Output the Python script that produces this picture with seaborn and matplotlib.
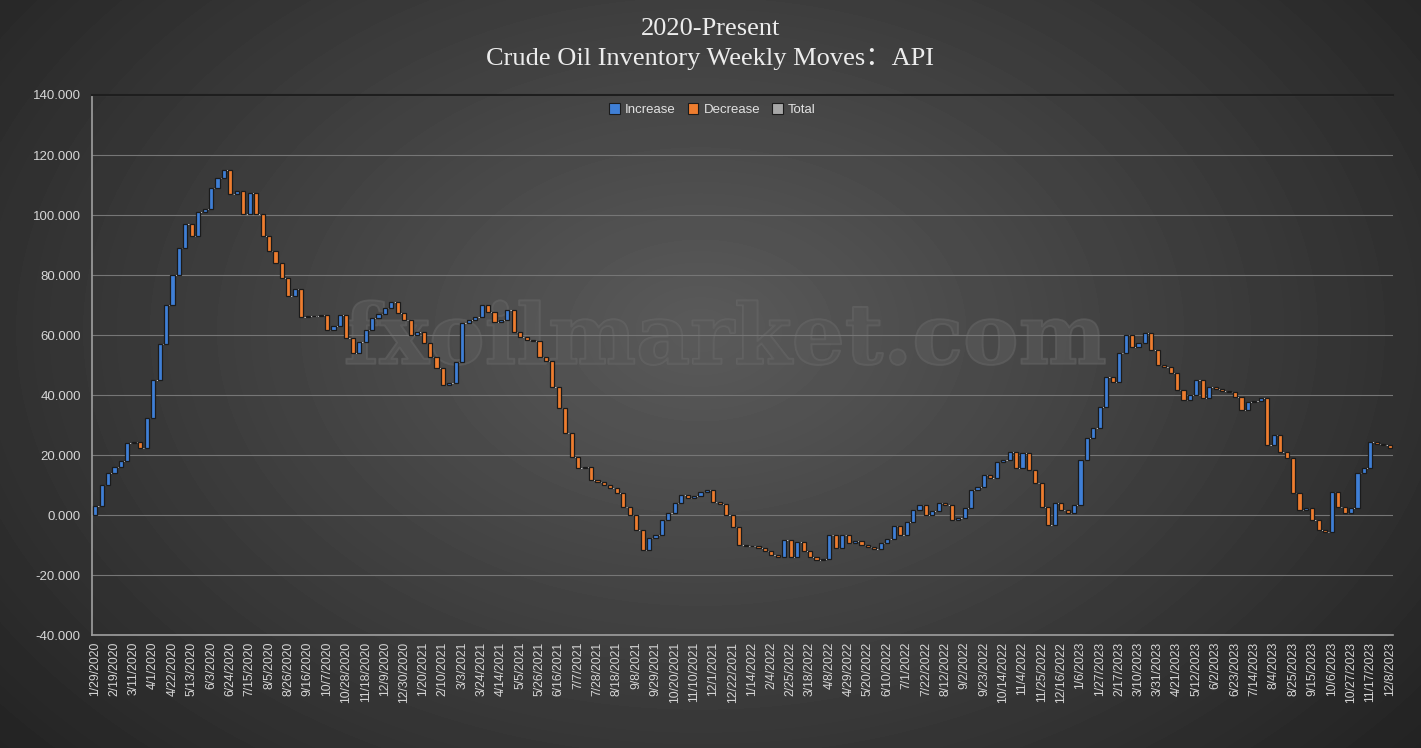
import numpy as np
import pandas as pd
import matplotlib
matplotlib.use("Agg")
import matplotlib.pyplot as plt
import matplotlib.patheffects as pe
from matplotlib.patches import Patch
import seaborn as sns

# tick labels (every third week)
week_labels = [
    "1/29/2020", "2/19/2020", "3/11/2020", "4/1/2020", "4/22/2020", "5/13/2020",
    "6/3/2020", "6/24/2020", "7/15/2020", "8/5/2020", "8/26/2020", "9/16/2020",
    "10/7/2020", "10/28/2020", "11/18/2020", "12/9/2020", "12/30/2020",
    "1/20/2021", "2/10/2021", "3/3/2021", "3/24/2021", "4/14/2021", "5/5/2021",
    "5/26/2021", "6/16/2021", "7/7/2021", "7/28/2021", "8/18/2021", "9/8/2021",
    "9/29/2021", "10/20/2021", "11/10/2021", "12/1/2021", "12/22/2021",
    "1/14/2022", "2/4/2022", "2/25/2022", "3/18/2022", "4/8/2022", "4/29/2022",
    "5/20/2022", "6/10/2022", "7/1/2022", "7/22/2022", "8/12/2022", "9/2/2022",
    "9/23/2022", "10/14/2022", "11/4/2022", "11/25/2022", "12/16/2022",
    "1/6/2023", "1/27/2023", "2/17/2023", "3/10/2023", "3/31/2023", "4/21/2023",
    "5/12/2023", "6/2/2023", "6/23/2023", "7/14/2023", "8/4/2023", "8/25/2023",
    "9/15/2023", "10/6/2023", "10/27/2023", "11/17/2023", "12/8/2023",
]

# running total after each weekly move (million bbl)
levels_2020 = [
    3, 10, 14, 16, 18, 24, 24.5, 22.5, 32.5, 45, 57, 70, 80, 89, 97, 93, 101,
    102, 109, 112.5, 115, 107, 108, 100.5, 107.5, 100.5, 93, 88, 84, 79, 73,
    75.5, 66, 66.3, 66.5, 66.7, 61.7, 63, 66.7, 59, 54, 57.7, 61.7, 65.7, 67,
    69, 71, 67.3, 65,
]
levels_2021 = [
    60, 61, 57.3, 52.7, 49, 43.3, 44, 51, 64, 65, 66, 70, 67.7, 64.3, 65, 68.3,
    61, 59.3, 58.3, 58, 52.7, 51.5, 42.7, 35.7, 27.3, 19.3, 15.7, 16, 11.7, 11,
    10, 9, 7.3, 2.7, 0, -5, -11.7, -7.7, -6.7, -1.7, 0.7, 4, 6.7, 5.7, 6.2,
    7.7, 8.3, 4.3, 3.8, 0, -4, -10, -10.4,
]
levels_2022 = [
    -10.3, -11, -12, -13.3, -13.9, -8.3, -13.9, -9, -12, -14, -15, -14.5, -6.7,
    -11, -6.7, -9.4, -8.5, -10, -10.5, -11.4, -9.4, -8, -3.5, -6.7, -2.3, 1.7,
    3.3, 0, 1.5, 4, 3.5, -1.7, -1, 2.3, 8.3, 9.3, 13.3, 12.5, 17.7, 18.3, 21,
    15.7, 20.7, 15, 10.7, 2.7, -3.3, 4, 1.7, 0.7,
]
levels_2023 = [
    3.3, 18.3, 25.6, 29, 36, 46, 44.3, 54, 60, 56, 57.3, 60.7, 55, 50, 49.5,
    47.3, 41.7, 38.3, 40, 45, 39, 42.7, 42, 41.5, 41, 39.4, 35, 37.7, 38, 39,
    23.3, 26.7, 21.1, 19, 7.3, 1.7, 2.5, -1.7, -5, -5.5, 7.7, 2.7, 0.7, 2.3,
    14, 15.7, 24.3, 23.8, 23.3, 22.3,
]
levels = levels_2020 + levels_2021 + levels_2022 + levels_2023

move_colors = {"Increase": "#3f7fd6", "Decrease": "#ee7d2f", "Total": "#a6a6a6"}

df = pd.DataFrame({"week": np.arange(len(levels)), "level": levels})
df["prev"] = df["level"].shift(1, fill_value=0.0)
df["change"] = df["level"] - df["prev"]
df["low"] = np.minimum(df["level"], df["prev"])
df["size"] = df["change"].abs()
df["move"] = np.where(df["change"] >= 0, "Increase", "Decrease")

sns.set_theme(style="dark")
plt.rcParams["font.family"] = ["Liberation Sans", "DejaVu Sans"]

fig = plt.figure(figsize=(14.21, 7.48), dpi=100)

# dark radial background like the Excel chart style
bg = fig.add_axes([0, 0, 1, 1], zorder=-10)
yy, xx = np.mgrid[0:748, 0:1421]
r = np.sqrt(((xx - 700) / 900.0) ** 2 + ((yy - 330) / 620.0) ** 2)
shade = np.clip(0.355 - 0.21 * r, 0.11, 0.36)
bg.imshow(shade, cmap="gray", vmin=0, vmax=1, aspect="auto")
bg.axis("off")

ax = fig.add_axes([0.0647, 0.151, 0.9155, 0.722])
ax.set_facecolor("none")

# watermark
ax.text(0.487, 0.545, "fxoilmarket.com", transform=ax.transAxes,
        ha="center", va="center", fontsize=60, fontweight="bold",
        family="DejaVu Serif", color="#5a5a5a", alpha=0.4, zorder=0.5,
        path_effects=[pe.withStroke(linewidth=1.4, foreground="#747474")])

# connectors between bars
sns.lineplot(data=df, x="week", y="level", drawstyle="steps-post",
             estimator=None, color="#cfcfcf", lw=0.7, linestyle=(0, (1.5, 1)),
             ax=ax, zorder=2)

for move in ["Increase", "Decrease"]:
    sub = df[df["move"] == move]
    sns.barplot(data=sub, x="week", y="size", native_scale=True,
                bottom=sub["low"].to_numpy(), color=move_colors[move],
                saturation=1, width=0.64, errorbar=None,
                edgecolor="#1b1b1b", linewidth=0.9, ax=ax, zorder=3)

ax.set_xlim(-0.5, len(levels) - 0.5)
ax.set_ylim(-40, 140)
ax.set_yticks(np.arange(-40, 141, 20))
ax.set_yticklabels([f"{v:.3f}" for v in np.arange(-40, 141, 20)])
ax.set_xticks(np.arange(0, len(levels), 3))
ax.set_xticklabels(week_labels, rotation=90)
ax.set_xlabel("")
ax.set_ylabel("")

ax.tick_params(axis="y", colors="#d6d6d6", labelsize=9.5, length=4,
               width=0.8, pad=4)
ax.tick_params(axis="x", colors="#d6d6d6", labelsize=8.8, length=0, pad=5)
ax.grid(axis="y", color="#767676", lw=0.8)
ax.grid(axis="x", visible=False)
ax.set_axisbelow(True)
for side in ["left", "bottom"]:
    ax.spines[side].set_color("#a0a0a0")
    ax.spines[side].set_linewidth(1.2)
ax.spines["top"].set_color("#1e1e1e")
ax.spines["top"].set_linewidth(1.5)
ax.spines["right"].set_visible(False)

handles = [Patch(facecolor=c, edgecolor="#1b1b1b", lw=0.8)
           for c in move_colors.values()]
ax.legend(handles, list(move_colors.keys()), loc="upper center",
          bbox_to_anchor=(0.477, 1.008), ncol=3, frameon=False, fontsize=9.5,
          labelcolor="#e2e2e2", handlelength=0.8, handleheight=1.0,
          columnspacing=0.9, handletextpad=0.4)

title_font = ["Liberation Serif", "Noto Sans CJK SC"]
fig.text(0.5, 0.961, "2020-Present", ha="center", va="center",
         fontsize=19, family=title_font, color="#ececec")
fig.text(0.5, 0.921, "Crude Oil Inventory Weekly Moves：API", ha="center",
         va="center", fontsize=19, family=title_font, color="#ececec")

fig.savefig("out.png", dpi=100)
